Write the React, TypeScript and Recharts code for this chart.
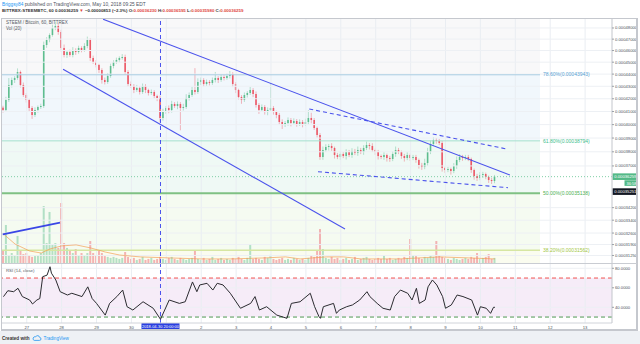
import React from 'react';
import {
  ComposedChart, Bar, Line, XAxis, YAxis, ReferenceLine, ReferenceArea, Cell,
} from 'recharts';

const UP = '#53b987';
const DOWN = '#eb4d5c';
const TREND = '#4a52ec';
const FONT = '"Liberation Sans", Arial, sans-serif';

// time axis = hours after 2018-04-27 00:00; one candle per 2h from 2018-04-26 08:00
const T_MIN = -17;
const T_MAX = 402.5;
const FIRST_HOUR = -16;
const CANDLE_HOURS = 2;
const FIB_END_HOUR = 353;
const MARK_HOUR = 92; // 2018-04-30 20:00

// prices in satoshi (1e-8 BTC)
const P_DOMAIN = [30809, 48820];
const RSI_DOMAIN = [23.9, 84.4];
const firstOpen = 41300;

const closes = [
  41119, 41902, 43105, 43514, 43678, 44175, 43105, 42299, 41902, 41274,
  40733, 41119, 41352, 41430, 46484, 46925, 47369, 47999, 48181, 47638,
  46222, 45615, 45874, 45615, 46047, 45874, 46222, 46047, 46396, 46925,
  45358, 45017, 44763, 44342, 43514, 43349, 43843, 44678, 45017, 45187,
  45358, 45443, 44175, 43186, 43024, 42700, 42862, 42539, 43024, 42700,
  42459, 42539, 42220, 42060, 40503, 40964, 41274, 41119, 41587, 41430,
  41587, 41274, 41352, 42060, 42299, 42700, 42539, 43349, 43514, 43186,
  43349, 43268, 43514, 43678, 43514, 43760, 43678, 43843, 44009, 43186,
  42700, 42140, 41902, 42299, 42459, 42700, 42379, 41509, 41119, 41352,
  40964, 41119, 41274, 40964, 40733, 40198, 39971, 40122, 40350, 40122,
  40274, 40047, 40198, 40047, 40198, 40503, 40350, 39746, 39224, 37629,
  38130, 38346, 38419, 38274, 37772, 37629, 37843, 37700, 37986, 37772,
  38058, 37915, 38130, 37986, 38274, 38491, 38419, 38130, 37986, 37700,
  37629, 37772, 37558, 37488, 37843, 38130, 37986, 37700, 37558, 37772,
  37558, 37629, 37417, 37066, 36926, 37206, 37986, 38564, 38856, 38783,
  38637, 36856, 36717, 36787, 36648, 36996, 37417, 37629, 37558, 37629,
  37488, 36717, 36304, 36167, 36373, 36441, 36236, 36031, 35963, 36259,
];

const wickUp = [
  150, 250, 570, 200, 150, 300, 120, 200, 150, 100,
  150, 200, 120, 180, 300, 250, 150, 300, 400, 250,
  200, 300, 150, 200, 250, 150, 200, 150, 250, 300,
  150, 200, 150, 100, 150, 200, 250, 200, 150, 200,
  150, 250, 200, 150, 200, 150, 250, 150, 200, 150,
  100, 200, 150, 100, 200, 250, 150, 200, 250, 150,
  200, 150, 250, 300, 200, 250, 1800, 300, 200, 150,
  200, 150, 200, 500, 150, 200, 150, 200, 250, 150,
  150, 100, 150, 200, 150, 250, 150, 200, 150, 200,
  150, 200, 2000, 150, 100, 150, 200, 150, 200, 150,
  200, 150, 200, 150, 250, 600, 400, 150, 100, 150,
  250, 200, 150, 200, 100, 150, 200, 150, 200, 150,
  200, 150, 250, 150, 200, 250, 150, 200, 100, 150,
  100, 200, 100, 150, 200, 250, 150, 100, 150, 200,
  100, 150, 150, 100, 150, 300, 300, 250, 200, 150,
  150, 150, 100, 150, 100, 200, 250, 200, 150, 150,
  150, 100, 100, 150, 200, 150, 100, 100, 150, 120,
];

const wickDown = [
  200, 150, 150, 200, 250, 150, 200, 150, 200, 250,
  300, 150, 200, 150, 150, 250, 200, 150, 200, 250,
  300, 200, 250, 150, 200, 250, 150, 200, 150, 200,
  250, 150, 200, 250, 300, 200, 150, 150, 200, 150,
  200, 150, 250, 200, 150, 250, 150, 200, 150, 250,
  200, 150, 200, 250, 350, 200, 150, 250, 200, 150,
  250, 1700, 200, 150, 200, 150, 200, 150, 250, 200,
  150, 200, 150, 200, 250, 150, 200, 150, 200, 250,
  250, 200, 300, 150, 200, 150, 250, 200, 300, 150,
  200, 250, 150, 200, 250, 200, 300, 150, 200, 250,
  150, 200, 150, 250, 150, 200, 250, 150, 200, 200,
  200, 150, 250, 200, 250, 150, 200, 150, 250, 150,
  200, 150, 200, 150, 200, 150, 250, 150, 200, 250,
  150, 200, 250, 200, 150, 200, 150, 200, 250, 150,
  200, 150, 200, 250, 200, 150, 200, 150, 150, 200,
  150, 250, 200, 150, 250, 150, 200, 150, 200, 150,
  150, 200, 250, 200, 150, 200, 150, 200, 200, 150,
];

// volume in BTC per candle
const volumes = [
  0.59, 1.87, 0.39, 0.49, 0.39, 1.33, 0.59, 0.44, 0.49, 0.39,
  0.30, 0.34, 0.39, 0.49, 2.80, 0.98, 2.51, 0.89, 0.98, 0.74,
  2.95, 0.98, 0.74, 0.59, 0.49, 0.69, 0.39, 0.49, 0.39, 0.49,
  1.08, 0.49, 0.39, 0.59, 0.49, 0.34, 0.30, 0.25, 0.30, 0.25,
  0.20, 0.25, 0.54, 0.30, 0.20, 0.25, 0.15, 0.20, 0.30, 0.15,
  0.20, 0.25, 0.15, 0.20, 0.30, 0.20, 0.15, 0.25, 0.30, 0.20,
  0.15, 0.25, 0.20, 0.15, 0.20, 0.25, 0.64, 0.20, 0.15, 0.25,
  0.15, 0.20, 0.30, 0.15, 0.20, 0.25, 0.15, 0.20, 0.15, 0.25,
  0.20, 0.30, 0.20, 0.15, 0.25, 0.93, 0.20, 0.25, 0.20, 0.15,
  0.30, 0.25, 0.40, 0.20, 0.15, 0.20, 0.25, 0.15, 0.20, 0.15,
  0.25, 0.20, 0.15, 0.20, 0.15, 0.25, 0.35, 0.30, 0.59, 1.67,
  0.69, 0.25, 0.20, 0.30, 0.20, 0.25, 0.15, 0.20, 0.25, 0.15,
  0.20, 0.30, 0.15, 0.20, 0.25, 0.30, 0.20, 0.15, 0.20, 0.25,
  0.20, 0.39, 0.20, 0.25, 0.15, 0.20, 0.25, 0.20, 0.30, 0.25,
  1.18, 0.39, 0.34, 0.25, 0.20, 0.30, 0.25, 0.35, 0.30, 1.08,
  0.35, 0.30, 0.25, 0.20, 0.15, 0.25, 0.20, 0.15, 0.20, 0.25,
  0.20, 0.30, 0.25, 0.49, 0.20, 0.25, 0.30, 0.44, 0.20, 0.25,
];

// Vol (20) moving average, read at some candles
const volMaIdx = [0, 4, 9, 13, 16, 20, 25, 30, 35, 40, 47, 57, 68, 78, 90, 97, 102, 111, 117, 123, 136, 150, 160, 169];
const volMaVal = [1.43, 0.93, 0.59, 0.49, 0.69, 0.84, 0.89, 0.74, 0.54, 0.39, 0.30, 0.25, 0.20, 0.20, 0.25, 0.30, 0.20, 0.30, 0.30, 0.20, 0.20, 0.30, 0.25, 0.20];

// RSI (14, close): [hour, value]
const rsiPoints = [
  [-16, 50.9], [-13, 57], [-9, 56], [-6, 59.5], [-3, 51], [2, 47.5], [4, 43.4], [7, 47.5], [9, 49], [11, 71.4],
  [14, 73], [16, 81.6], [17, 75], [20, 68], [23, 56], [28, 52.6], [31, 54.4], [38, 51], [42, 61], [45, 49],
  [48, 44], [54, 32], [57, 44], [62, 51], [66, 57.7], [69, 40.6], [73, 37.2], [80, 45.7], [87, 39], [92, 27.7],
  [98, 47.5], [105, 44], [109, 45.7], [114, 66], [117, 56], [119, 62.9], [124, 64.6], [128, 57.7], [131, 64.6], [135, 62.9],
  [140, 54.4], [147, 39], [154, 44], [157, 51], [160, 37.2], [165, 40.6], [172, 32], [179, 28.7], [182, 44], [188, 45.7],
  [195, 54.4], [198, 40.6], [201, 30.4], [202, 28.7], [204, 40.6], [211, 44], [213, 33.8], [215, 37.2], [220, 40.6], [224, 42.4],
  [229, 47.5], [234, 56], [236, 51], [241, 44], [245, 39], [250, 37.2], [253, 51], [257, 57.7], [262, 54.4], [265, 47.5],
  [268, 59.5], [270, 44], [274, 47.5], [276, 61], [279, 68], [282, 62.9], [286, 51], [288, 39], [292, 42.4], [296, 52.6],
  [300, 51], [306, 47.5], [310, 32], [312, 40.6], [316, 39], [319, 33.8], [321, 40], [322, 40],
];

const dayHours = [0, 24, 48, 72, 120, 144, 168, 192, 216, 240, 264, 288, 312, 336, 360, 384];
const dayLabels = ['27', '28', '29', '30', '2', '3', '4', '5', '6', '7', '8', '9', '10', '11', '12', '13'];
const gridHours = [0, 24, 48, 72, 96, 120, 144, 168, 192, 216, 240, 264, 288, 312, 336, 360, 384];
const priceTicks = [48000, 47000, 46000, 45000, 44000, 43000, 42000, 41000, 40000, 39000, 38000, 37000, 34200, 33400, 32600, 31900, 31250];
const rsiTicks = [80, 60, 40];

const fibPct = ['78.60%', '61.80%', '50.00%', '38.20%'];
const fibPrice = [43943, 38794, 35138, 31562];
const fibLine = ['#a9cde2', '#a6e0cd', '#7fc183', '#d6e6a2'];
const fibLineWidth = [1, 1, 2, 1.5];
const fibText = ['#5aa2d3', '#3dbd8c', '#4caf50', '#a3c744'];
const fibFill = ['#7a7f8a', '#3d9ad1', '#26b17f', '#7ccf4e', '#c9d94a'];
const fibFillOpacity = [0.05, 0.075, 0.075, 0.08, 0.09];

// trend lines as [hour, price] end points
const trendSolid = [
  [[52.5, 48800], [332.3, 36373]],
  [[25, 44401], [218.9, 32850]],
];
const trendThick = [[-16.5, 32523], [22.9, 33243]];
const trendDashed = [
  [[194.3, 41196], [330.1, 38202]],
  [[200.3, 36600], [331, 35512]],
];

const LAST_PRICE = 36259;
const CROSS_PRICE = 35251;

const candles = closes.map((c, i) => {
  const o = i === 0 ? firstOpen : closes[i - 1];
  const hi = Math.max(o, c) + wickUp[i];
  const lo = Math.min(o, c) - wickDown[i];
  return { t: FIRST_HOUR + i * CANDLE_HOURS, o, c, hi, lo, range: [lo, hi], vol: volumes[i] };
});
const maData = volMaIdx.map((k, j) => ({ t: FIRST_HOUR + k * CANDLE_HOURS, ma: volMaVal[j] }));
const rsiData = rsiPoints.map(([t, v]) => ({ t, rsi: v }));
const zoneEdges = [P_DOMAIN[1], ...fibPrice, P_DOMAIN[0]];

const fmtPrice = (v: number) => (v / 1e8).toFixed(8);
const axisTick = { fontSize: 4.2, fill: '#4f5560', fontFamily: FONT };

const Candle = (props: any) => {
  const { x, y, width, height, payload } = props;
  if (x == null || y == null || !payload) return null;
  const top = Math.min(y, y + height);
  const bot = Math.max(y, y + height);
  const { o, c, hi, lo } = payload;
  const span = Math.log(hi) - Math.log(lo) || 1;
  const py = (v: number) => top + ((Math.log(hi) - Math.log(v)) / span) * (bot - top);
  const cx = x + width / 2;
  const col = c >= o ? UP : DOWN;
  const y1 = py(Math.max(o, c));
  const y2 = py(Math.min(o, c));
  return (
    <g>
      <line x1={cx} x2={cx} y1={top} y2={bot} stroke={col} strokeOpacity={0.4} strokeWidth={1} />
      <rect x={cx - 0.8} y={y1} width={1.6} height={Math.max(0.8, y2 - y1)} fill={col} fillOpacity={0.9} />
    </g>
  );
};

const FibTag = ({ viewBox, text, color }: any) => {
  if (!viewBox) return null;
  return (
    <text x={viewBox.x + viewBox.width + 3} y={viewBox.y + 1.7} fill={color} fontSize={5} fontFamily={FONT}>
      {text}
    </text>
  );
};

const AxisTag = ({ viewBox, text, bg, sub }: any) => {
  if (!viewBox) return null;
  const x = viewBox.x + viewBox.width + 0.5;
  const y = viewBox.y;
  return (
    <g fontFamily={FONT}>
      <rect x={x} y={y - 3.3} width={25} height={6.6} fill={bg} />
      <text x={x + 1.8} y={y + 1.5} fill="#fff" fontSize={4.2}>{text}</text>
      {sub ? (
        <g>
          <rect x={x + 12} y={y + 3.6} width={13} height={5.6} fill={bg} />
          <text x={x + 14} y={y + 7.9} fill="#fff" fontSize={4}>{sub}</text>
        </g>
      ) : null}
    </g>
  );
};

const TimeTag = ({ viewBox, text }: any) => {
  if (!viewBox) return null;
  const x = viewBox.x;
  const y = viewBox.y + viewBox.height;
  return (
    <g fontFamily={FONT}>
      <rect x={x - 19} y={y} width={38} height={7.5} fill="#2a3fe0" />
      <text x={x} y={y + 5.4} fill="#fff" fontSize={4} textAnchor="middle">{text}</text>
    </g>
  );
};

const PriceChart = () => (
  <ComposedChart width={640} height={244} data={candles} margin={{ top: 0, right: 2, bottom: 0, left: 2 }}>
    <XAxis dataKey="t" type="number" domain={[T_MIN, T_MAX]} allowDataOverflow hide />
    <XAxis xAxisId="vx" dataKey="t" type="number" domain={[T_MIN, T_MAX]} allowDataOverflow hide />
    <YAxis
      yAxisId="p"
      orientation="right"
      scale="log"
      type="number"
      domain={P_DOMAIN}
      allowDataOverflow
      ticks={priceTicks}
      interval={0}
      width={26}
      tickFormatter={fmtPrice}
      tick={axisTick}
      tickSize={2}
      tickMargin={1}
      tickLine={{ stroke: '#9aa0a8' }}
      axisLine={{ stroke: '#c3c6cc' }}
    />
    <YAxis yAxisId="v" hide domain={[0, 12]} allowDataOverflow />

    {zoneEdges.slice(0, -1).map((top, i) => (
      <ReferenceArea
        key={`z${i}`}
        yAxisId="p"
        x1={T_MIN}
        x2={FIB_END_HOUR}
        y1={zoneEdges[i + 1]}
        y2={top}
        fill={fibFill[i]}
        fillOpacity={fibFillOpacity[i]}
        stroke="none"
      />
    ))}
    {gridHours.map((h) => (
      <ReferenceLine key={`gx${h}`} yAxisId="p" x={h} stroke="#e9edf2" strokeWidth={1} />
    ))}
    {priceTicks.map((p) => (
      <ReferenceLine key={`gy${p}`} yAxisId="p" y={p} stroke="#edf0f4" strokeWidth={1} />
    ))}
    {fibPrice.map((p, i) => (
      <ReferenceLine
        key={`f${i}`}
        yAxisId="p"
        segment={[{ x: T_MIN, y: p }, { x: FIB_END_HOUR, y: p }]}
        stroke={fibLine[i]}
        strokeWidth={fibLineWidth[i]}
        label={<FibTag text={`${fibPct[i]}(${fmtPrice(p)})`} color={fibText[i]} />}
      />
    ))}

    <Bar xAxisId="vx" yAxisId="v" dataKey="vol" barSize={2} isAnimationActive={false}>
      {candles.map((d, i) => (
        <Cell key={i} fill={d.c >= d.o ? UP : DOWN} fillOpacity={0.42} />
      ))}
    </Bar>
    <Line
      xAxisId="vx"
      yAxisId="v"
      data={maData}
      dataKey="ma"
      type="linear"
      stroke="#f39a4c"
      strokeOpacity={0.65}
      strokeWidth={1}
      dot={false}
      isAnimationActive={false}
    />
    <Bar yAxisId="p" dataKey="range" barSize={2} isAnimationActive={false} shape={(p: any) => <Candle {...p} />} />

    <ReferenceLine
      yAxisId="p"
      y={LAST_PRICE}
      stroke="#7fcfa5"
      strokeDasharray="1 2"
      label={<AxisTag text={fmtPrice(LAST_PRICE)} bg="#53b987" sub="36:58" />}
    />
    <ReferenceLine
      yAxisId="p"
      y={CROSS_PRICE}
      stroke="none"
      label={<AxisTag text={fmtPrice(CROSS_PRICE)} bg="#131722" />}
    />
    <ReferenceLine yAxisId="p" x={MARK_HOUR} stroke={TREND} strokeWidth={1} strokeDasharray="4 3" />
    {trendSolid.map((s, i) => (
      <ReferenceLine
        key={`ts${i}`}
        yAxisId="p"
        segment={[{ x: s[0][0], y: s[0][1] }, { x: s[1][0], y: s[1][1] }]}
        stroke={TREND}
        strokeWidth={1.1}
      />
    ))}
    <ReferenceLine
      yAxisId="p"
      segment={[{ x: trendThick[0][0], y: trendThick[0][1] }, { x: trendThick[1][0], y: trendThick[1][1] }]}
      stroke="#3a46e6"
      strokeWidth={1.8}
    />
    {trendDashed.map((s, i) => (
      <ReferenceLine
        key={`td${i}`}
        yAxisId="p"
        segment={[{ x: s[0][0], y: s[0][1] }, { x: s[1][0], y: s[1][1] }]}
        stroke={TREND}
        strokeWidth={1.1}
        strokeDasharray="4 3"
      />
    ))}
  </ComposedChart>
);

const RsiChart = () => (
  <ComposedChart width={640} height={67} data={rsiData} margin={{ top: 0, right: 2, bottom: 0, left: 2 }}>
    <XAxis
      dataKey="t"
      type="number"
      domain={[T_MIN, T_MAX]}
      allowDataOverflow
      ticks={dayHours}
      interval={0}
      height={8}
      tickFormatter={(t: number) => dayLabels[dayHours.indexOf(t)] ?? ''}
      tick={axisTick}
      tickLine={false}
      tickSize={2}
      tickMargin={1}
      axisLine={{ stroke: '#d1d4da' }}
    />
    <YAxis
      orientation="right"
      type="number"
      domain={RSI_DOMAIN}
      allowDataOverflow
      ticks={rsiTicks}
      interval={0}
      width={26}
      tickFormatter={(v: number) => v.toFixed(4)}
      tick={axisTick}
      tickSize={2}
      tickMargin={1}
      tickLine={{ stroke: '#9aa0a8' }}
      axisLine={{ stroke: '#c3c6cc' }}
    />
    {gridHours.map((h) => (
      <ReferenceLine key={`rx${h}`} x={h} stroke="#e9edf2" strokeWidth={1} />
    ))}
    {rsiTicks.map((v) => (
      <ReferenceLine key={`ry${v}`} y={v} stroke="#edf0f4" strokeWidth={1} />
    ))}
    <ReferenceArea y1={30} y2={70} fill="#9c27b0" fillOpacity={0.085} stroke="none" />
    <ReferenceLine y={70} stroke="#f0534f" strokeDasharray="4 3" />
    <ReferenceLine y={30} stroke="#4f9a52" strokeDasharray="4 3" />
    <ReferenceLine
      x={MARK_HOUR}
      stroke={TREND}
      strokeDasharray="4 3"
      label={<TimeTag text="2018-04-30 20:00:00" />}
    />
    <Line dataKey="rsi" type="linear" stroke="#2b2b30" strokeWidth={1} dot={false} isAnimationActive={false} />
  </ComposedChart>
);

const red = { color: '#e0463e' };

export default function App() {
  return (
    <div
      style={{
        position: 'absolute',
        left: 0,
        top: 0,
        width: 640,
        height: 344,
        background: '#fff',
        overflow: 'hidden',
        fontFamily: FONT,
      }}
    >
      <div style={{ position: 'absolute', left: 2, top: 2, fontSize: 4.8, lineHeight: '6px', color: '#50555f', whiteSpace: 'nowrap' }}>
        <span style={{ color: '#2196f3' }}>Briggsy84</span> published on TradingView.com, May 10, 2018 09:25 EDT
      </div>
      <div style={{ position: 'absolute', left: 2, top: 7.8, fontSize: 4.4, lineHeight: '6px', color: '#333', fontWeight: 700, whiteSpace: 'nowrap' }}>
        BITTREX:STEEMBTC, 60 0.00036259 <span style={red}>▼</span> −0.00000853 (−2.3%) O:<span style={red}>0.00036230</span> H:
        <span style={red}>0.00036595</span> L:<span style={red}>0.00035980</span> C:<span style={red}>0.00036259</span>
      </div>

      <div style={{ position: 'absolute', left: 0, top: 19 }}>
        <PriceChart />
      </div>
      <div style={{ position: 'absolute', left: 0, top: 264 }}>
        <RsiChart />
      </div>

      <div style={{ position: 'absolute', left: 6, top: 20, fontSize: 4.5, lineHeight: '5px', color: '#555a63', whiteSpace: 'nowrap' }}>
        STEEM / Bitcoin, 60, BITTREX
      </div>
      <div style={{ position: 'absolute', left: 6, top: 26, fontSize: 4.5, lineHeight: '5px', color: '#555a63', whiteSpace: 'nowrap' }}>
        Vol (20)
      </div>
      <div style={{ position: 'absolute', left: 6, top: 267.5, fontSize: 4.3, lineHeight: '5px', color: '#555a63', whiteSpace: 'nowrap' }}>
        RSI (14, close)
      </div>

      <div style={{ position: 'absolute', left: 1, top: 18, width: 637, height: 313, boxSizing: 'border-box', border: '1px solid #c5c8ce', borderRightWidth: 2, borderBottomWidth: 2, pointerEvents: 'none' }} />
      <div style={{ position: 'absolute', left: 2, top: 262.5, width: 635, height: 1.5, background: '#c9ccd2' }} />

      <div style={{ position: 'absolute', left: 0, top: 331, width: 640, height: 13, background: '#eef1f5' }}>
        <div style={{ position: 'absolute', left: 2, top: 4, fontSize: 4.6, lineHeight: '5px', whiteSpace: 'nowrap', display: 'flex', alignItems: 'center' }}>
          <span style={{ color: '#333', fontWeight: 700 }}>Created with</span>
          <svg width={10} height={6} style={{ margin: '0 2px' }}>
            <path d="M2.2 5.4h5.2a1.5 1.5 0 0 0 0.2-3 2.1 2.1 0 0 0-4-0.5A1.6 1.6 0 0 0 2.2 5.4z" fill="none" stroke="#2196f3" strokeWidth={0.8} />
          </svg>
          <span style={{ color: '#2196f3' }}>TradingView</span>
        </div>
      </div>
    </div>
  );
}
